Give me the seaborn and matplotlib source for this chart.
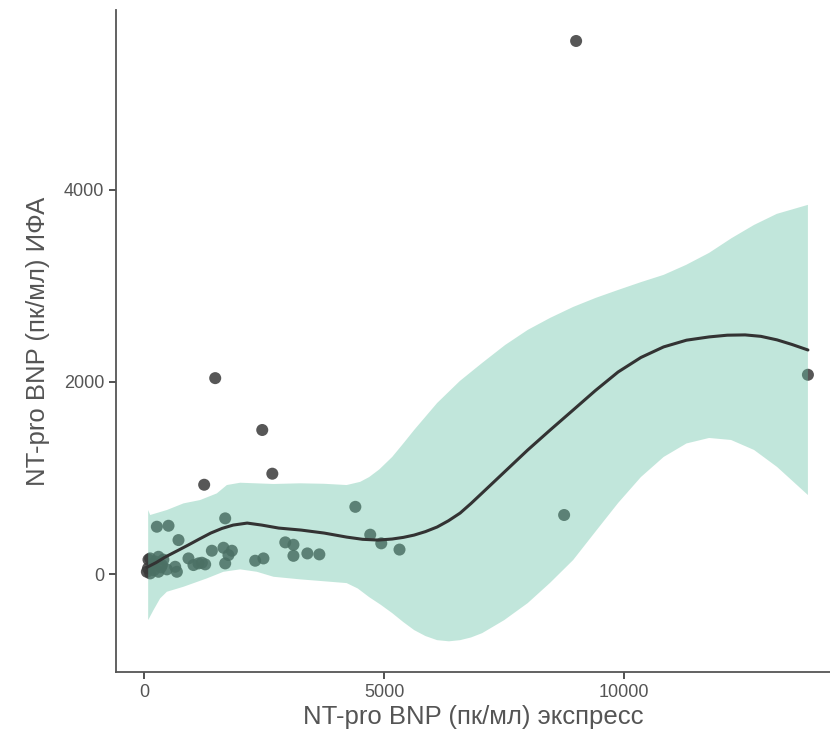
import numpy as np
import pandas as pd
import matplotlib
matplotlib.use("Agg")
import matplotlib.pyplot as plt
import seaborn as sns

# scatter data (express vs ELISA NT-pro BNP)
express = [9000, 1480, 2460, 1250, 2670, 13830,
           8750, 4400, 4710, 4940, 5320, 2940, 3110, 3110, 3400, 3650,
           264, 507, 1688, 715, 125, 298, 194, 369, 56, 125, 298, 473, 646, 681,
           923, 1027, 1131, 1202, 1271, 1410, 1652, 1827, 1756, 1688, 2313, 2485,
           80, 200, 400, 350, 230, 90]
ifa = [5550, 2040, 1500, 930, 1045, 2075,
       615, 700, 410, 320, 255, 330, 305, 190, 215, 205,
       493, 503, 580, 354, 163, 180, 111, 94, 24, 7, 24, 49, 76, 24,
       163, 94, 111, 118, 101, 243, 274, 243, 198, 111, 139, 163,
       60, 40, 150, 70, 130, 150]

# smoother curve
fit_x = [56, 250, 437, 680, 917, 1150, 1387, 1620, 1854, 2146, 2450, 2802, 3271,
         3750, 4219, 4550, 4875, 5167, 5400, 5625, 5860, 6104, 6340, 6583, 6810,
         7042, 7500, 7992, 8460, 8938, 9400, 9875, 10350, 10823, 11300, 11771,
         12150, 12521, 12850, 13188, 13500, 13830]
fit_y = [70, 120, 177, 240, 302, 365, 427, 475, 510, 531, 510, 479, 458,
         427, 385, 362, 354, 365, 382, 406, 442, 490, 555, 635, 735,
         844, 1060, 1292, 1500, 1708, 1910, 2104, 2255, 2365, 2435, 2469,
         2487, 2490, 2475, 2438, 2390, 2333]

# confidence band, upper and lower edge
hi_x = [83, 125, 473, 819, 1167, 1514, 1723, 2000, 2694, 3250, 3750, 4219, 4500,
        4688, 4900, 5167, 5400, 5625, 6104, 6577, 7042, 7521, 7992, 8458, 8938,
        9406, 9875, 10354, 10823, 11292, 11771, 12238, 12708, 13181, 13830]
hi_y = [667, 615, 667, 736, 771, 840, 927, 951, 938, 945, 940, 927, 960,
        1010, 1090, 1219, 1360, 1500, 1781, 2010, 2198, 2385, 2542, 2667, 2781,
        2875, 2958, 3040, 3115, 3219, 3344, 3497, 3635, 3750, 3844]
lo_x = [83, 194, 333, 473, 819, 1306, 1652, 2000, 2347, 2694, 3250, 3750, 4219,
        4450, 4688, 4930, 5167, 5400, 5625, 5860, 6104, 6350, 6583, 6810, 7042,
        7500, 7992, 8460, 8938, 9400, 9875, 10350, 10823, 11300, 11771, 12229,
        12708, 13188, 13830]
lo_y = [-479, -375, -253, -184, -132, -45, 24, 49, 24, -28, -55, -75, -94,
        -150, -240, -320, -406, -500, -583, -645, -688, -700, -688, -660, -615,
        -480, -302, -90, 146, 440, 740, 1010, 1219, 1360, 1417, 1396,
        1292, 1115, 823]

df = pd.DataFrame({"express": express, "ifa": ifa})
fit = pd.DataFrame({"x": fit_x, "y": fit_y})

sns.set_style("white")
plt.rcParams["font.family"] = ["Liberation Sans", "DejaVu Sans"]

fig, ax = plt.subplots(figsize=(8.3, 7.51), dpi=100)
fig.subplots_adjust(left=0.14, right=1.0, bottom=0.105, top=0.987)

sns.scatterplot(data=df, x="express", y="ifa", ax=ax, s=75, color="#3a3a3a",
                alpha=0.85, edgecolor="none", zorder=2)
# band polygon: upper edge left->right, lower edge right->left
ax.fill(hi_x + lo_x[::-1], hi_y + lo_y[::-1], color="#66c2a5", alpha=0.4,
        linewidth=0, zorder=3)
sns.lineplot(data=fit, x="x", y="y", ax=ax, color="#333333", linewidth=2.2, zorder=4)

ax.set_xlim(-583, 14290)
ax.set_ylim(-1021, 5875)
ax.set_xticks([0, 5000, 10000])
ax.set_yticks([0, 2000, 4000])

ax.set_xlabel("NT-pro BNP (пк/мл) экспресс", fontsize=18.5, color="#555555", labelpad=3)
ax.set_ylabel("NT-pro BNP (пк/мл) ИФА", fontsize=18.5, color="#555555", labelpad=10)
ax.tick_params(axis="both", labelsize=13, labelcolor="#555555", color="#333333",
               length=5, width=1.2, direction="out", bottom=True, left=True)

sns.despine(ax=ax)
for side in ["left", "bottom"]:
    ax.spines[side].set_color("#555555")
    ax.spines[side].set_linewidth(1.3)

fig.savefig("out.png", dpi=100)
